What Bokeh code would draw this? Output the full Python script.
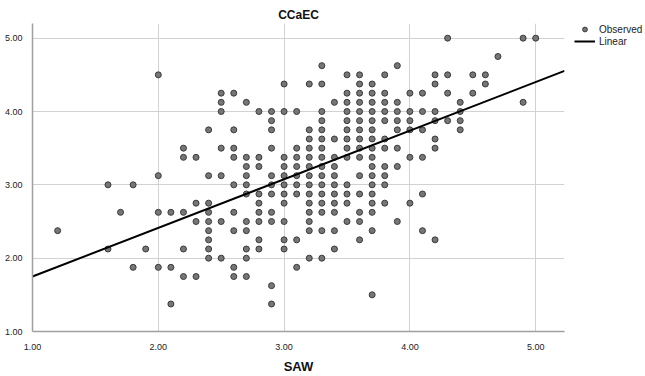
from bokeh.plotting import figure
from bokeh.layouts import row
from bokeh.models import (Range1d, FixedTicker, NumeralTickFormatter, Legend, LegendItem,
                          ColumnDataSource)
from bokeh.embed import file_html
from bokeh.resources import INLINE

# ---- data (SAW step 0.1, CCaEC step 0.125) ----
saw_levels = [1.2, 1.6, 1.7, 1.8, 1.9, 2.0, 2.1, 2.2, 2.3, 2.4, 2.5, 2.6, 2.7, 2.8, 2.9,
              3.0, 3.1, 3.2, 3.3, 3.4, 3.5, 3.6, 3.7, 3.8, 3.9, 4.0, 4.1, 4.2, 4.3, 4.4,
              4.5, 4.6, 4.7, 4.9, 5.0]
ccaec_at_level = [
    [2.375],
    [3.0, 2.125],
    [2.625],
    [3.0, 1.875],
    [2.125],
    [4.5, 3.125, 2.625, 1.875],
    [2.625, 1.875, 1.375],
    [3.5, 3.375, 2.625, 2.125, 1.75],
    [3.375, 2.75, 2.5, 1.75],
    [3.75, 3.125, 2.75, 2.625, 2.5, 2.375, 2.25, 2.125, 2.0],
    [4.25, 4.125, 4.0, 3.5, 3.125, 2.5, 2.0],
    [4.25, 3.75, 3.5, 3.375, 3.0, 2.625, 2.375, 1.875, 1.75],
    [4.125, 3.375, 3.25, 3.125, 3.0, 2.875, 2.5, 2.375, 2.125, 2.0, 1.75],
    [4.0, 3.375, 3.25, 2.875, 2.75, 2.625, 2.5, 2.25, 2.125],
    [4.0, 3.875, 3.75, 3.5, 3.125, 3.0, 2.875, 2.625, 2.5, 1.625, 1.375],
    [4.375, 4.0, 3.375, 3.25, 3.125, 3.0, 2.875, 2.75, 2.5, 2.25, 2.125],
    [4.0, 3.5, 3.375, 3.25, 3.125, 3.0, 2.875, 2.25, 1.875],
    [4.375, 3.75, 3.625, 3.5, 3.375, 3.25, 3.125, 3.0, 2.875, 2.75, 2.625, 2.5, 2.375, 2.0],
    [4.625, 4.375, 4.0, 3.875, 3.75, 3.625, 3.5, 3.375, 3.25, 3.125, 3.0, 2.875, 2.75, 2.625, 2.375, 2.0],
    [4.125, 3.625, 3.375, 3.25, 3.125, 3.0, 2.875, 2.75, 2.625, 2.375, 2.125],
    [4.5, 4.25, 4.125, 4.0, 3.875, 3.75, 3.625, 3.5, 3.375, 3.0, 2.875, 2.75, 2.5],
    [4.5, 4.375, 4.25, 4.125, 4.0, 3.875, 3.75, 3.625, 3.5, 3.375, 3.125, 2.875, 2.625, 2.5, 2.25],
    [4.375, 4.25, 4.125, 4.0, 3.875, 3.75, 3.625, 3.5, 3.375, 3.25, 3.125, 3.0, 2.875, 2.75, 2.625, 2.375, 1.5],
    [4.5, 4.25, 4.125, 4.0, 3.875, 3.625, 3.5, 3.25, 3.125, 3.0, 2.75],
    [4.625, 4.125, 4.0, 3.875, 3.75, 3.5, 3.25, 2.5],
    [4.25, 4.0, 3.875, 3.75, 3.375, 2.75],
    [4.25, 4.0, 3.75, 3.375, 2.875, 2.375],
    [4.5, 4.375, 4.0, 3.875, 3.625, 3.5, 2.25],
    [5.0, 4.5, 4.25, 3.875],
    [4.125, 4.0, 3.875, 3.75],
    [4.5, 4.25],
    [4.5, 4.375],
    [4.75],
    [5.0, 4.125],
    [5.0],
]
tick_values = [1, 2, 3, 4, 5]
fit_intercept = 1.087
fit_slope = 0.663
title_text = "CCaEC"
x_title = "SAW"
legend_labels = ["Observed", "Linear"]

saw = [lv for lv, ys in zip(saw_levels, ccaec_at_level) for _ in ys]
ccaec = [y for ys in ccaec_at_level for y in ys]

X_MIN, X_MAX = 1.0, 5.229
Y_MIN, Y_MAX = 1.0, 5.2

MARKER = dict(size=6, fill_color="#767676", line_color="#3a3a3a", line_width=1)
FITLINE = dict(line_color="black", line_width=2)

p = figure(width=574, height=376, output_backend="svg", toolbar_location=None,
           x_range=Range1d(X_MIN, X_MAX), y_range=Range1d(Y_MIN, Y_MAX),
           min_border_left=32, min_border_right=10, min_border_top=23, min_border_bottom=42)
p.outline_line_color = None
p.background_fill_color = "white"
p.border_fill_color = "white"

p.title.text = title_text
p.title.align = "center"
p.title.text_font = "Liberation Sans"
p.title.text_font_size = "12px"
p.title.text_font_style = "bold"
p.title.text_color = "#111111"
p.title.standoff = 4

for ax in (p.xaxis[0], p.yaxis[0]):
    ax.ticker = FixedTicker(ticks=tick_values)
    ax.formatter = NumeralTickFormatter(format="0.00")
    ax.major_tick_line_color = None
    ax.minor_tick_line_color = None
    ax.axis_line_color = "#a0a0a0"
    ax.axis_line_width = 1.5
    ax.major_label_text_font = "Liberation Sans"
    ax.major_label_text_font_size = "9px"
    ax.major_label_text_color = "#222222"
p.xaxis.major_label_standoff = 6
p.yaxis.major_label_standoff = 4
p.xaxis.axis_label = x_title
p.xaxis.axis_label_standoff = 6
p.xaxis.axis_label_text_font = "Liberation Sans"
p.xaxis.axis_label_text_font_size = "13px"
p.xaxis.axis_label_text_font_style = "bold"
p.xaxis.axis_label_text_color = "#111111"

for g in (p.xgrid[0], p.ygrid[0]):
    g.ticker = FixedTicker(ticks=tick_values)
    g.grid_line_color = "#d2d2d2"
    g.grid_line_width = 1

src = ColumnDataSource(dict(x=saw, y=ccaec))
p.scatter("x", "y", source=src, **MARKER)

fx = [X_MIN, X_MAX]
fy = [fit_intercept + fit_slope * v for v in fx]
p.line(fx, fy, **FITLINE)

# ---- legend panel to the right of the plot ----
lg = figure(width=71, height=376, output_backend="svg", toolbar_location=None,
            x_range=Range1d(0, 1), y_range=Range1d(0, 1),
            x_axis_type=None, y_axis_type=None,
            min_border_left=0, min_border_right=0, min_border_top=23, min_border_bottom=0)
lg.outline_line_color = None
lg.xgrid.visible = False
lg.ygrid.visible = False
lg.background_fill_color = "white"
lg.border_fill_color = "white"
# key renderers carry one point outside the legend panel's visible range
obs_key = lg.scatter(x=[-10], y=[-10], **MARKER)
lin_key = lg.line(x=[-10, -9], y=[-10, -10], **FITLINE)

legend = Legend(items=[LegendItem(label=legend_labels[0], renderers=[obs_key]),
                       LegendItem(label=legend_labels[1], renderers=[lin_key])],
                location="top_left", glyph_width=21, glyph_height=12, label_height=12,
                spacing=0, padding=0, margin=0, label_standoff=4,
                background_fill_alpha=0, border_line_color=None,
                label_text_font="Liberation Sans", label_text_font_size="10px",
                label_text_color="#222222")
lg.add_layout(legend)

layout = row(p, lg, spacing=0)
open("out.html", "w").write(file_html(layout, INLINE))
